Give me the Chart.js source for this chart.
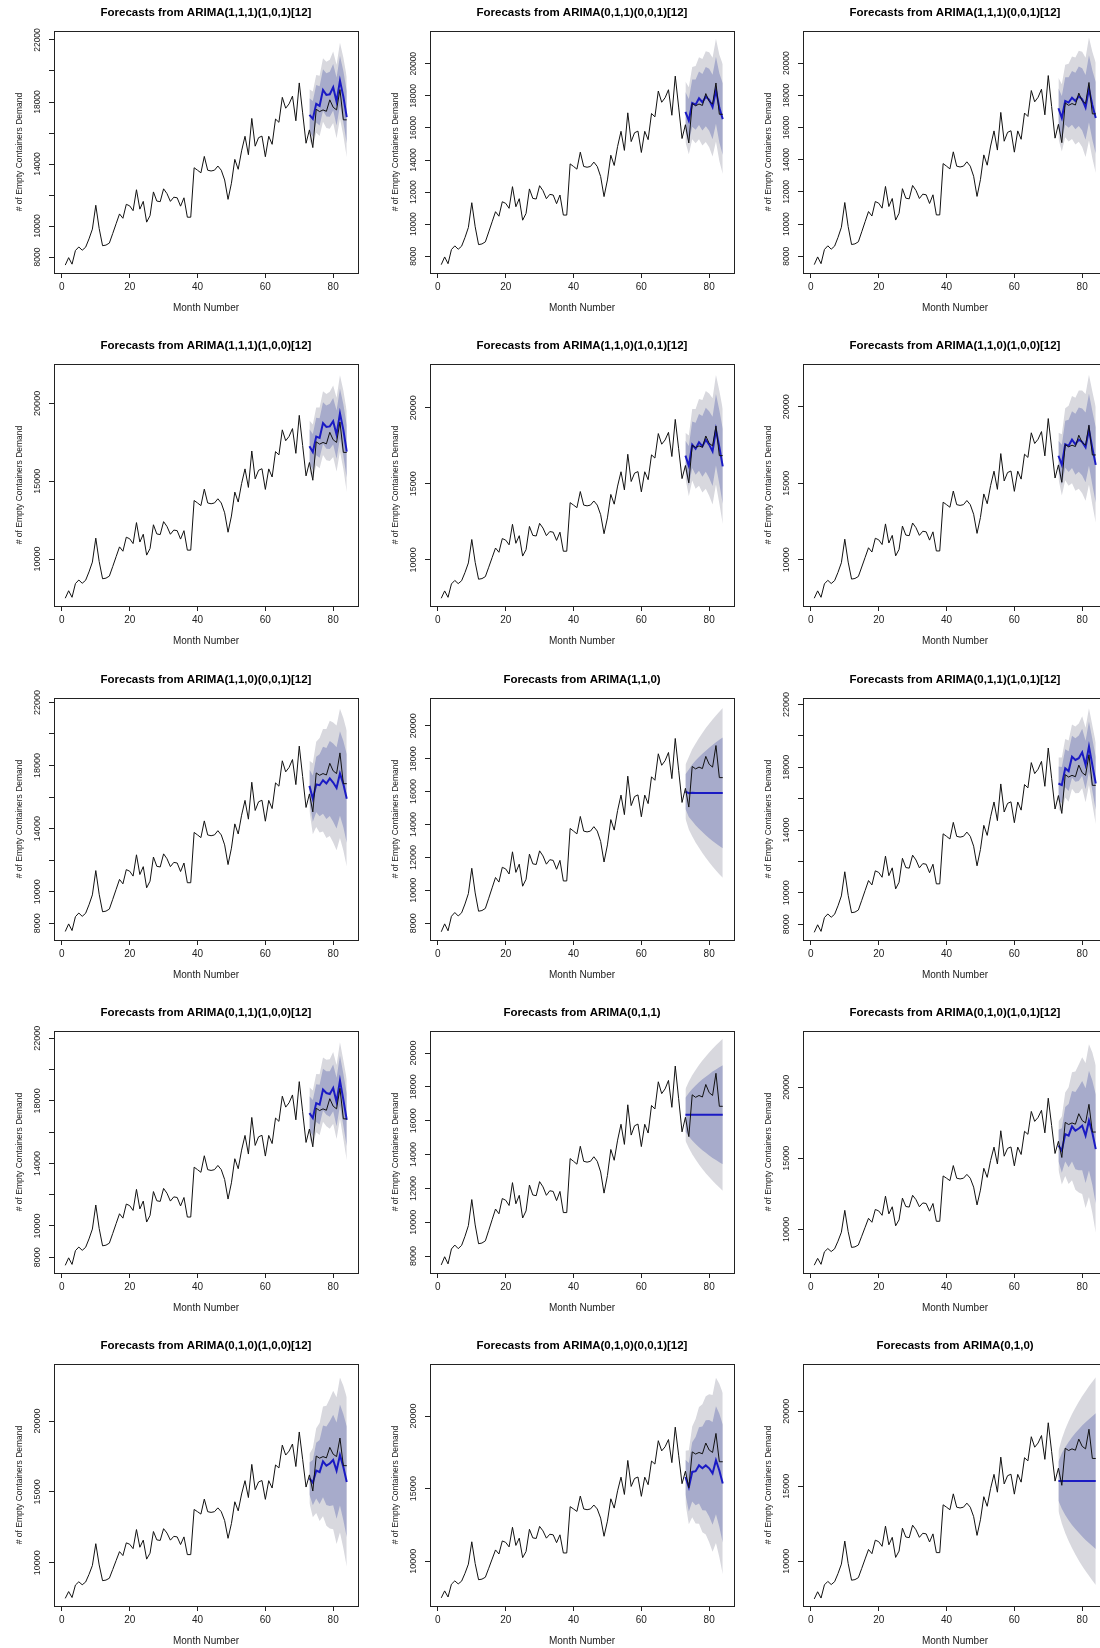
<!DOCTYPE html>
<html>
<head>
<meta charset="utf-8">
<title>ARIMA forecasts</title>
<script src="https://cdn.jsdelivr.net/npm/chart.js@4.4.1/dist/chart.umd.min.js"></script>
<style>
html, body { margin: 0; padding: 0; background: #fff; overflow: hidden; }
#page { position: relative; width: 1100px; height: 1648px; overflow: hidden; }
.panel { position: absolute; width: 375px; height: 333px; }
</style>
</head>
<body>
<div id="page"></div>
<script>
/* ===============================
   DATA
================================ */
const obsMonths = [1, 2, 3, 4, 5, 6, 7, 8, 9, 10, 11, 12, 13, 14, 15, 16, 17, 18, 19, 20,
    21, 22, 23, 24, 25, 26, 27, 28, 29, 30, 31, 32, 33, 34, 35, 36, 37, 38, 39, 40,
    41, 42, 43, 44, 45, 46, 47, 48, 49, 50, 51, 52, 53, 54, 55, 56, 57, 58, 59, 60,
    61, 62, 63, 64, 65, 66, 67, 68, 69, 70, 71, 72, 73, 74, 75, 76, 77, 78, 79, 80,
    81, 82, 83, 84];
const demand = [7480, 7960, 7540, 8420, 8650, 8440, 8630, 9170, 9800, 11340,
    9840, 8730, 8770, 8900, 9520, 10150, 10780, 10500, 11400, 11300,
    10990, 12340, 11090, 11590, 10250, 10670, 12200, 11610, 11570, 12400,
    12090, 11590, 11860, 11820, 11280, 11820, 10570, 10570, 13760, 13600,
    13430, 14490, 13600, 13550, 13600, 13870, 13600, 12970, 11720, 12760,
    14300, 13660, 14850, 15790, 14600, 16940, 15150, 15700, 15800, 14470,
    15790, 15270, 16900, 16690, 18300, 17600, 17880, 18380, 16790, 19230,
    17300, 15340, 16200, 15060, 17530, 17380, 17490, 17400, 18140, 17660,
    17490, 18800, 16850, 16850];
const fcMonths = [73, 74, 75, 76, 77, 78, 79, 80, 81, 82, 83, 84];

const xTicks = [0, 20, 40, 60, 80];
const yTicks2k = [8000, 10000, 12000, 14000, 16000, 18000, 20000, 22000];
const yLabels2kSparse = ["8000", "10000", "", "14000", "", "18000", "", "22000"];
const yTicks2kFull = [8000, 10000, 12000, 14000, 16000, 18000, 20000];
const yLabels2kFull = ["8000", "10000", "12000", "14000", "16000", "18000", "20000"];
const yTicks5k = [10000, 15000, 20000];
const yLabels5k = ["10000", "15000", "20000"];

// ARIMA(1,1,1)(1,0,1)[12]
const p1Mean = [17170, 16910, 17880, 17750, 18780, 18460, 18500, 18950, 18030, 19380, 18350, 17020];
const p1Lo80 = [16090, 15760, 16670, 16480, 17440, 17070, 17050, 17450, 16480, 17780, 16700, 15330];
const p1Hi80 = [18250, 18060, 19090, 19020, 20120, 19850, 19950, 20450, 19580, 20980, 20000, 18710];
const p1Lo95 = [15520, 15150, 16020, 15800, 16730, 16330, 16280, 16650, 15660, 16930, 15830, 14430];
const p1Hi95 = [18820, 18670, 19740, 19700, 20830, 20590, 20720, 21250, 20400, 21830, 20870, 19610];

// ARIMA(0,1,1)(0,0,1)[12]
const p2Mean = [17000, 16450, 17550, 17450, 17850, 17600, 17950, 17750, 17300, 18350, 17250, 16550];
const p2Lo80 = [15760, 15090, 16080, 15880, 16180, 15840, 16100, 15820, 15290, 16260, 15090, 14320];
const p2Hi80 = [18240, 17810, 19020, 19020, 19520, 19360, 19800, 19680, 19310, 20440, 19410, 18780];
const p2Lo95 = [15100, 14360, 15300, 15040, 15290, 14900, 15120, 14790, 14220, 15150, 13940, 13130];
const p2Hi95 = [18900, 18540, 19800, 19860, 20410, 20300, 20780, 20710, 20380, 21550, 20560, 19970];

// ARIMA(1,1,1)(0,0,1)[12]
const p3Mean = [17200, 16600, 17650, 17550, 17850, 17650, 17950, 17750, 17250, 18400, 17400, 16600];
const p3Lo80 = [15960, 15240, 16180, 15980, 16180, 15890, 16100, 15820, 15240, 16310, 15240, 14370];
const p3Hi80 = [18440, 17960, 19120, 19120, 19520, 19410, 19800, 19680, 19260, 20490, 19560, 18830];
const p3Lo95 = [15300, 14510, 15400, 15140, 15290, 14950, 15120, 14790, 14170, 15200, 14090, 13180];
const p3Hi95 = [19100, 18690, 19900, 19960, 20410, 20350, 20780, 20710, 20330, 21600, 20710, 20020];

// ARIMA(1,1,1)(1,0,0)[12]
const p4Mean = [17250, 16880, 17870, 17780, 18730, 18480, 18520, 18850, 17990, 19360, 18300, 16900];
const p4Lo80 = [16170, 15730, 16660, 16510, 17390, 17090, 17070, 17350, 16440, 17760, 16650, 15210];
const p4Hi80 = [18330, 18030, 19080, 19050, 20070, 19870, 19970, 20350, 19540, 20960, 19950, 18590];
const p4Lo95 = [15600, 15120, 16010, 15830, 16680, 16350, 16300, 16550, 15620, 16910, 15780, 14310];
const p4Hi95 = [18900, 18640, 19730, 19730, 20780, 20610, 20740, 21150, 20360, 21810, 20820, 19490];

// ARIMA(1,1,0)(1,0,1)[12]
const p5Mean = [16850, 16180, 17570, 17300, 17720, 17460, 17890, 17570, 17130, 18550, 17410, 16140];
const p5Lo80 = [15870, 14870, 16040, 15590, 15860, 15470, 15790, 15380, 14850, 16200, 14990, 13670];
const p5Hi80 = [17830, 17490, 19100, 19010, 19580, 19450, 19990, 19760, 19410, 20900, 19830, 18610];
const p5Lo95 = [15350, 14180, 15220, 14680, 14870, 14420, 14680, 14210, 13640, 14950, 13710, 12360];
const p5Hi95 = [18350, 18180, 19920, 19920, 20570, 20500, 21100, 20930, 20620, 22150, 21110, 19920];

// ARIMA(1,1,0)(1,0,0)[12]
const p6Mean = [16800, 16200, 17550, 17450, 17850, 17550, 17850, 17700, 17350, 18500, 17300, 16200];
const p6Lo80 = [15820, 14890, 16020, 15740, 15990, 15560, 15750, 15510, 15070, 16150, 14880, 13730];
const p6Hi80 = [17780, 17510, 19080, 19160, 19710, 19540, 19950, 19890, 19630, 20850, 19720, 18670];
const p6Lo95 = [15300, 14200, 15200, 14830, 15000, 14510, 14640, 14340, 13860, 14900, 13600, 12420];
const p6Hi95 = [18300, 18200, 19900, 20070, 20700, 20590, 21060, 21060, 20840, 22100, 21000, 19980];

// ARIMA(1,1,0)(0,0,1)[12]
const p7Mean = [16710, 15900, 16800, 16750, 17070, 16860, 17180, 16920, 16580, 17500, 16820, 15900];
const p7Lo80 = [15670, 14430, 15040, 14790, 14950, 14610, 14800, 14440, 14000, 14820, 14080, 13090];
const p7Hi80 = [17750, 17370, 18560, 18710, 19190, 19110, 19560, 19400, 19160, 20180, 19560, 18710];
const p7Lo95 = [15110, 13650, 14100, 13750, 13820, 13410, 13530, 13120, 12630, 13400, 12620, 11600];
const p7Hi95 = [18310, 18150, 19500, 19750, 20320, 20310, 20830, 20720, 20530, 21600, 21020, 20200];

// ARIMA(1,1,0)
const p8Mean = [16000, 15900, 15930, 15920, 15920, 15920, 15920, 15920, 15920, 15920, 15920, 15920];
const p8Lo80 = [14940, 14460, 14210, 13950, 13740, 13540, 13350, 13170, 13000, 12840, 12690, 12550];
const p8Hi80 = [17060, 17340, 17650, 17890, 18100, 18300, 18490, 18670, 18840, 19000, 19150, 19290];
const p8Lo95 = [14370, 13700, 13290, 12910, 12580, 12270, 11980, 11710, 11450, 11210, 10980, 10760];
const p8Hi95 = [17630, 18100, 18570, 18930, 19260, 19570, 19860, 20130, 20390, 20630, 20860, 21080];

// ARIMA(0,1,1)(1,0,1)[12]
const p9Mean = [16970, 16870, 17940, 17760, 18680, 18470, 18580, 18960, 18150, 19320, 18150, 16970];
const p9Lo80 = [15890, 15720, 16730, 16490, 17340, 17080, 17130, 17460, 16600, 17720, 16500, 15280];
const p9Hi80 = [18050, 18020, 19150, 19030, 20020, 19860, 20030, 20460, 19700, 20920, 19800, 18660];
const p9Lo95 = [15320, 15110, 16080, 15810, 16630, 16340, 16360, 16660, 15780, 16870, 15630, 14380];
const p9Hi95 = [18620, 18630, 19800, 19710, 20730, 20600, 20800, 21260, 20520, 21770, 20670, 19560];

// ARIMA(0,1,1)(1,0,0)[12]
const p10Mean = [17220, 16900, 17860, 17760, 18720, 18500, 18440, 18830, 17930, 19300, 18080, 16790];
const p10Lo80 = [16140, 15750, 16650, 16490, 17380, 17110, 16990, 17330, 16380, 17700, 16430, 15100];
const p10Hi80 = [18300, 18050, 19070, 19030, 20060, 19890, 19890, 20330, 19480, 20900, 19730, 18480];
const p10Lo95 = [15570, 15140, 16000, 15810, 16670, 16370, 16220, 16530, 15560, 16850, 15560, 14200];
const p10Hi95 = [18870, 18660, 19720, 19710, 20770, 20630, 20660, 21130, 20300, 21750, 20600, 19380];

// ARIMA(0,1,1)
const p11Mean = [16350, 16350, 16350, 16350, 16350, 16350, 16350, 16350, 16350, 16350, 16350, 16350];
const p11Lo80 = [15350, 15060, 14830, 14620, 14430, 14250, 14100, 13950, 13800, 13670, 13540, 13420];
const p11Hi80 = [17350, 17640, 17870, 18080, 18270, 18450, 18600, 18750, 18900, 19030, 19160, 19280];
const p11Lo95 = [14820, 14380, 14020, 13700, 13410, 13140, 12900, 12670, 12450, 12240, 12050, 11860];
const p11Hi95 = [17880, 18320, 18680, 19000, 19290, 19560, 19800, 20030, 20250, 20460, 20650, 20840];

// ARIMA(0,1,0)(1,0,1)[12]
const p12Mean = [15900, 15550, 16700, 16600, 17250, 16950, 17100, 17300, 16600, 17650, 16800, 15650];
const p12Lo80 = [14790, 13980, 14780, 14380, 14770, 14230, 14160, 14160, 13270, 14140, 13120, 11800];
const p12Hi80 = [17010, 17120, 18620, 18820, 19730, 19670, 20040, 20440, 19930, 21160, 20480, 19500];
const p12Lo95 = [14200, 13150, 13760, 13200, 13450, 12790, 12600, 12490, 11500, 12270, 11160, 9760];
const p12Hi95 = [17600, 17950, 19640, 20000, 21050, 21110, 21600, 22110, 21700, 23030, 22440, 21540];

// ARIMA(0,1,0)(1,0,0)[12]
const p13Mean = [15950, 15650, 16500, 16400, 17150, 16850, 17000, 17250, 16500, 17600, 16750, 15700];
const p13Lo80 = [14820, 14050, 14540, 14140, 14620, 14080, 14010, 14060, 13110, 14030, 13000, 11790];
const p13Hi80 = [17080, 17250, 18460, 18660, 19680, 19620, 19990, 20440, 19890, 21170, 20500, 19610];
const p13Lo95 = [14220, 13200, 13500, 12940, 13280, 12610, 12420, 12360, 11310, 12130, 11010, 9710];
const p13Hi95 = [17680, 18100, 19500, 19860, 21020, 21090, 21580, 22140, 21690, 23070, 22490, 21690];

// ARIMA(0,1,0)(0,0,1)[12]
const p14Mean = [15800, 15100, 16150, 16200, 16600, 16400, 16600, 16400, 16050, 16950, 16250, 15350];
const p14Lo80 = [14620, 13430, 14110, 13850, 13970, 13520, 13490, 13080, 12520, 13230, 12350, 11280];
const p14Hi80 = [16980, 16770, 18190, 18550, 19230, 19280, 19710, 19720, 19580, 20670, 20150, 19420];
const p14Lo95 = [14000, 12550, 13030, 12600, 12580, 11990, 11840, 11310, 10650, 11260, 10280, 9110];
const p14Hi95 = [17600, 17650, 19270, 19800, 20620, 20810, 21360, 21490, 21450, 22640, 22220, 21590];

// ARIMA(0,1,0)
const p15Mean = [15340, 15340, 15340, 15340, 15340, 15340, 15340, 15340, 15340, 15340, 15340, 15340];
const p15Lo80 = [14030, 13490, 13080, 12730, 12420, 12140, 11890, 11640, 11420, 11210, 11010, 10810];
const p15Hi80 = [16650, 17190, 17600, 17950, 18260, 18540, 18790, 19040, 19260, 19470, 19670, 19870];
const p15Lo95 = [13340, 12510, 11880, 11340, 10870, 10440, 10050, 9680, 9340, 9020, 8710, 8410];
const p15Hi95 = [17340, 18170, 18800, 19340, 19810, 20240, 20630, 21000, 21340, 21660, 21970, 22270];

/* ===============================
   PANEL TABLE
================================ */
const panels = [
    { title: "Forecasts from ARIMA(1,1,1)(1,0,1)[12]", mean: p1Mean, lo80: p1Lo80, hi80: p1Hi80, lo95: p1Lo95, hi95: p1Hi95, yTicks: yTicks2k, yLabels: yLabels2kSparse, yLim: [6970, 22580] },
    { title: "Forecasts from ARIMA(0,1,1)(0,0,1)[12]", mean: p2Mean, lo80: p2Lo80, hi80: p2Hi80, lo95: p2Lo95, hi95: p2Hi95, yTicks: yTicks2kFull, yLabels: yLabels2kFull, yLim: [6960, 22040] },
    { title: "Forecasts from ARIMA(1,1,1)(0,0,1)[12]", mean: p3Mean, lo80: p3Lo80, hi80: p3Hi80, lo95: p3Lo95, hi95: p3Hi95, yTicks: yTicks2kFull, yLabels: yLabels2kFull, yLim: [6960, 22000] },
    { title: "Forecasts from ARIMA(1,1,1)(1,0,0)[12]", mean: p4Mean, lo80: p4Lo80, hi80: p4Hi80, lo95: p4Lo95, hi95: p4Hi95, yTicks: yTicks5k, yLabels: yLabels5k, yLim: [6980, 22530] },
    { title: "Forecasts from ARIMA(1,1,0)(1,0,1)[12]", mean: p5Mean, lo80: p5Lo80, hi80: p5Hi80, lo95: p5Lo95, hi95: p5Hi95, yTicks: yTicks5k, yLabels: yLabels5k, yLim: [6970, 22870] },
    { title: "Forecasts from ARIMA(1,1,0)(1,0,0)[12]", mean: p6Mean, lo80: p6Lo80, hi80: p6Hi80, lo95: p6Lo95, hi95: p6Hi95, yTicks: yTicks5k, yLabels: yLabels5k, yLim: [6970, 22800] },
    { title: "Forecasts from ARIMA(1,1,0)(0,0,1)[12]", mean: p7Mean, lo80: p7Lo80, hi80: p7Hi80, lo95: p7Lo95, hi95: p7Hi95, yTicks: yTicks2k, yLabels: yLabels2kSparse, yLim: [6940, 22280] },
    { title: "Forecasts from ARIMA(1,1,0)", mean: p8Mean, lo80: p8Lo80, hi80: p8Hi80, lo95: p8Lo95, hi95: p8Hi95, yTicks: yTicks2kFull, yLabels: yLabels2kFull, yLim: [6980, 21690] },
    { title: "Forecasts from ARIMA(0,1,1)(1,0,1)[12]", mean: p9Mean, lo80: p9Lo80, hi80: p9Hi80, lo95: p9Lo95, hi95: p9Hi95, yTicks: yTicks2k, yLabels: yLabels2kSparse, yLim: [6990, 22420] },
    { title: "Forecasts from ARIMA(0,1,1)(1,0,0)[12]", mean: p10Mean, lo80: p10Lo80, hi80: p10Hi80, lo95: p10Lo95, hi95: p10Hi95, yTicks: yTicks2k, yLabels: yLabels2kSparse, yLim: [6990, 22470] },
    { title: "Forecasts from ARIMA(0,1,1)", mean: p11Mean, lo80: p11Lo80, hi80: p11Hi80, lo95: p11Lo95, hi95: p11Hi95, yTicks: yTicks2kFull, yLabels: yLabels2kFull, yLim: [7000, 21300] },
    { title: "Forecasts from ARIMA(0,1,0)(1,0,1)[12]", mean: p12Mean, lo80: p12Lo80, hi80: p12Hi80, lo95: p12Lo95, hi95: p12Hi95, yTicks: yTicks5k, yLabels: yLabels5k, yLim: [6930, 23960] },
    { title: "Forecasts from ARIMA(0,1,0)(1,0,0)[12]", mean: p13Mean, lo80: p13Lo80, hi80: p13Hi80, lo95: p13Lo95, hi95: p13Hi95, yTicks: yTicks5k, yLabels: yLabels5k, yLim: [6940, 24030] },
    { title: "Forecasts from ARIMA(0,1,0)(0,0,1)[12]", mean: p14Mean, lo80: p14Lo80, hi80: p14Hi80, lo95: p14Lo95, hi95: p14Hi95, yTicks: yTicks5k, yLabels: yLabels5k, yLim: [6920, 23580] },
    { title: "Forecasts from ARIMA(0,1,0)", mean: p15Mean, lo80: p15Lo80, hi80: p15Hi80, lo95: p15Lo95, hi95: p15Hi95, yTicks: yTicks5k, yLabels: yLabels5k, yLim: [7010, 23150] }
];

/* ===============================
   LAYOUT & STYLE
================================ */
const FONT = '"Liberation Sans", Arial, Helvetica, sans-serif';
const colLeft = [0, 376, 749];
const rowTop = [0, 333, 667, 1000, 1333];
const band95 = "#D8D8DE";
const band80 = "#A7ABCB";
const fcBlue = "#1A1AC4";
const ink = "#222222";

Chart.defaults.font.family = FONT;
Chart.defaults.color = ink;

// title, box and rotated y labels the way R draws them
const rFrame = {
    id: "rFrame",
    afterDraw(chart, args, opts) {
        const ctx = chart.ctx;
        const a = chart.chartArea;
        const ys = chart.scales.y;
        ctx.save();
        ctx.strokeStyle = ink;
        ctx.lineWidth = 1;
        ctx.strokeRect(Math.round(a.left) + 0.5, Math.round(a.top) + 0.5,
            Math.round(a.right - a.left), Math.round(a.bottom - a.top));

        ctx.fillStyle = "#000";
        ctx.font = "bold 11.5px " + FONT;
        ctx.textAlign = "center";
        ctx.textBaseline = "middle";
        ctx.fillText(opts.title, (a.left + a.right) / 2, a.top - 18);

        ctx.fillStyle = ink;
        ctx.font = opts.labelSize + "px " + FONT;
        opts.ticks.forEach((v, i) => {
            const txt = opts.labels[i];
            if (!txt) return;
            const y = ys.getPixelForValue(v);
            ctx.save();
            ctx.translate(a.left - 16, y);
            ctx.rotate(-Math.PI / 2);
            ctx.fillText(txt, 0, 0);
            ctx.restore();
        });
        ctx.restore();
    }
};

function pts(xs, ys) {
    return xs.map((x, i) => ({ x: x, y: ys[i] }));
}

function bandSet(values, fillTo, color, order) {
    return {
        data: pts(fcMonths, values),
        borderColor: "rgba(0,0,0,0)",
        borderWidth: 0,
        backgroundColor: color,
        fill: fillTo,
        pointRadius: 0,
        order: order
    };
}

/* ===============================
   BUILD PANELS
================================ */
const page = document.getElementById("page");

panels.forEach((p, idx) => {
    const col = idx % 3;
    const row = Math.floor(idx / 3);
    const box = document.createElement("div");
    box.className = "panel";
    box.style.left = colLeft[col] + "px";
    box.style.top = rowTop[row] + "px";
    const cv = document.createElement("canvas");
    cv.width = 375;
    cv.height = 333;
    box.appendChild(cv);
    page.appendChild(box);

    new Chart(cv, {
        type: "line",
        data: {
            datasets: [
                { data: pts(obsMonths, demand), borderColor: "#111", borderWidth: 1, pointRadius: 0, fill: false, order: 1 },
                { data: pts(fcMonths, p.mean), borderColor: fcBlue, borderWidth: 2, pointRadius: 0, fill: false, order: 2 },
                bandSet(p.lo80, false, band80, 3),
                bandSet(p.hi80, 2, band80, 3),
                bandSet(p.lo95, false, band95, 4),
                bandSet(p.hi95, 4, band95, 4)
            ]
        },
        options: {
            responsive: false,
            animation: false,
            devicePixelRatio: 1,
            layout: { padding: { left: 0, top: 31, right: 17, bottom: 0 } },
            elements: { line: { tension: 0 } },
            plugins: {
                legend: { display: false },
                tooltip: { enabled: false },
                rFrame: { title: p.title, ticks: p.yTicks, labels: p.yLabels, labelSize: row === 0 ? 8.5 : 9 }
            },
            scales: {
                x: {
                    type: "linear",
                    min: -2.32,
                    max: 87.32,
                    afterBuildTicks: (s) => { s.ticks = xTicks.map(v => ({ value: v })); },
                    afterFit: (s) => { s.height = 60; },
                    grid: { display: true, drawOnChartArea: false, drawTicks: true, tickLength: 5, tickColor: ink },
                    border: { display: false },
                    ticks: { font: { size: 10 }, color: ink, padding: 3, maxRotation: 0, autoSkip: false },
                    title: { display: true, text: "Month Number", font: { size: 10 }, color: ink, padding: { top: 0, bottom: 19 } }
                },
                y: {
                    type: "linear",
                    min: p.yLim[0],
                    max: p.yLim[1],
                    afterBuildTicks: (s) => { s.ticks = p.yTicks.map(v => ({ value: v })); },
                    afterFit: (s) => { s.width = 54; },
                    grid: { display: true, drawOnChartArea: false, drawTicks: true, tickLength: 5, tickColor: ink },
                    border: { display: false },
                    ticks: { display: false },
                    title: { display: true, text: "# of Empty Containers Demand", font: { size: 8.5 }, color: ink, padding: { top: 15, bottom: 0 } }
                }
            }
        },
        plugins: [rFrame]
    });
});
</script>
</body>
</html>
